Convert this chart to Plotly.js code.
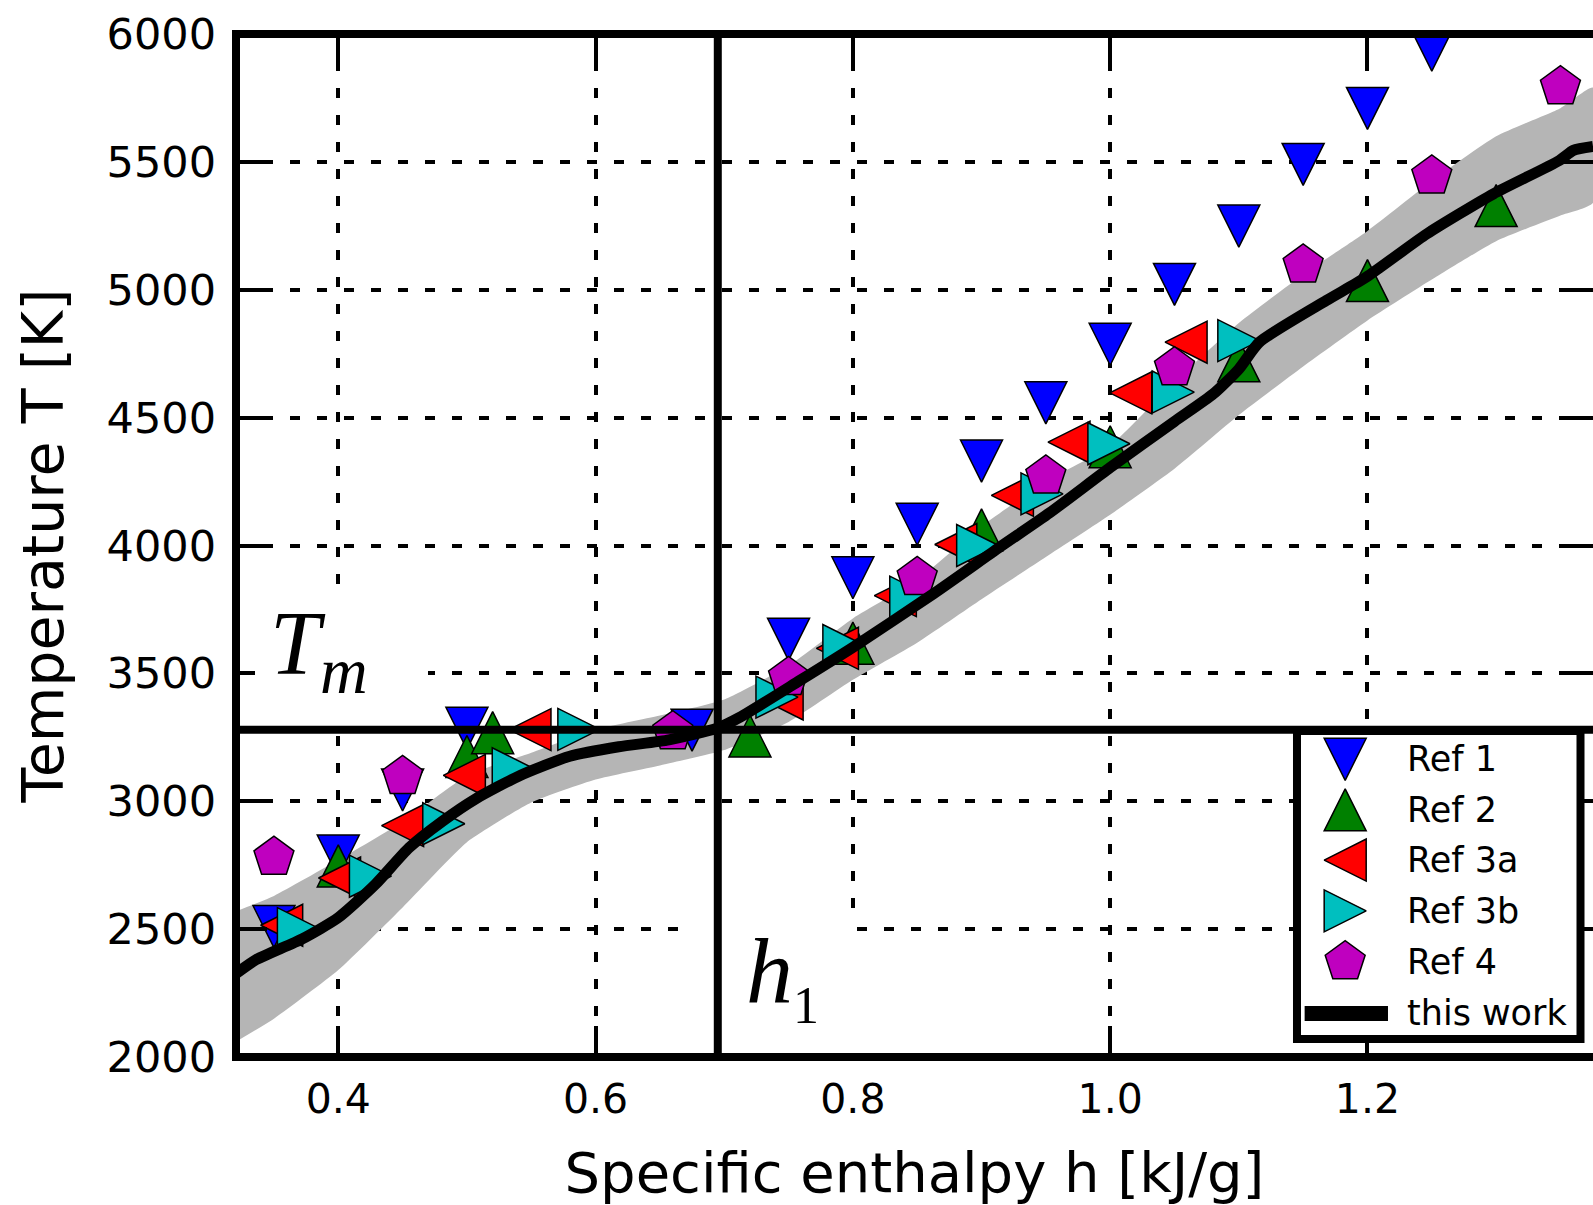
<!DOCTYPE html>
<html>
<head>
<meta charset="utf-8">
<script src="https://cdn.plot.ly/plotly-3.0.1.min.js"></script>
<style>
html,body{margin:0;padding:0;background:#fff;}
#chart{width:1593px;height:1205px;}
</style>
</head>
<body>
<div id="chart"></div>
<script>
// ---------------- data ----------------
const TM = 3280;    // melting temperature line T_m [K]
const H1 = 0.695;   // enthalpy line h_1 [kJ/g]

const ref1_h = [0.35, 0.40, 0.45, 0.50, 0.675, 0.75, 0.80, 0.85, 0.90, 0.95, 1.00, 1.05, 1.10, 1.15, 1.20, 1.25];
const ref1_T = [2510, 2786, 3044, 3285, 3278, 3633, 3874, 4083, 4330, 4558, 4787, 5021, 5249, 5490, 5709, 5937];

const ref2_h = [0.40, 0.50, 0.52, 0.72, 0.80, 0.90, 1.00, 1.10, 1.20, 1.30];
const ref2_T = [2747, 3175, 3268, 3255, 3618, 4061, 4386, 4722, 5036, 5329];

const ref3a_h = [0.356, 0.401, 0.450, 0.498, 0.549, 0.745, 0.788, 0.833, 0.880, 0.924, 0.968, 1.016, 1.059];
const ref3a_T = [2515, 2700, 2905, 3101, 3280, 3400, 3598, 3804, 4004, 4196, 4404, 4597, 4795];

const ref3b_h = [0.369, 0.425, 0.482, 0.536, 0.587, 0.741, 0.793, 0.845, 0.897, 0.947, 0.999, 1.049, 1.100];
const ref3b_T = [2502, 2707, 2912, 3127, 3281, 3407, 3609, 3798, 4000, 4202, 4398, 4600, 4801];

const ref4_h = [0.35, 0.45, 0.66, 0.75, 0.85, 0.95, 1.05, 1.15, 1.25, 1.35];
const ref4_T = [2781, 3097, 3272, 3484, 3875, 4272, 4695, 5097, 5445, 5794];

const work_h = [0.3205, 0.336, 0.372, 0.40, 0.429, 0.455, 0.481, 0.507, 0.541, 0.58, 0.618, 0.657, 0.694, 0.712, 0.759, 0.80, 0.8625, 0.914, 0.953, 1.00, 1.05, 1.08, 1.10, 1.116, 1.168, 1.199, 1.246, 1.298, 1.349, 1.36, 1.3753];
const work_T = [2326, 2380, 2462, 2545, 2676, 2818, 2922, 3010, 3100, 3176, 3213, 3240, 3285, 3328, 3473, 3602, 3811, 3993, 4128, 4305, 4485, 4592, 4690, 4795, 4958, 5049, 5218, 5375, 5505, 5545, 5560];

const band_h     = [0.3205, 0.35, 0.40, 0.45, 0.50, 0.55, 0.60, 0.65, 0.70, 0.75, 0.80, 0.85, 0.90, 0.95, 1.00, 1.05, 1.10, 1.15, 1.20, 1.25, 1.30, 1.35, 1.3753];
const band_upper = [2570, 2630, 2770, 2920, 3100, 3190, 3280, 3335, 3398, 3530, 3715, 3865, 4075, 4250, 4390, 4640, 4870, 5060, 5230, 5425, 5600, 5710, 5790];
const band_lower = [2060, 2150, 2340, 2585, 2840, 2995, 3085, 3140, 3200, 3310, 3475, 3620, 3790, 3955, 4120, 4300, 4510, 4700, 4880, 5040, 5190, 5290, 5340];

const xTickVals = [0.4, 0.6, 0.8, 1.0, 1.2];
const xTickText = ['0.4', '0.6', '0.8', '1.0', '1.2'];
const yTickVals = [2000, 2500, 3000, 3500, 4000, 4500, 5000, 5500, 6000];
const yTickText = ['2000', '2500', '3000', '3500', '4000', '4500', '5000', '5500', '6000'];

const seriesNames = ['Ref 1', 'Ref 2', 'Ref 3a', 'Ref 3b', 'Ref 4', 'this work'];

// ---------------- styling ----------------
const MS = 42;                 // marker size
const EDGE = {color: '#000', width: 1.5};
const FONT = 'DejaVu Sans, Bitstream Vera Sans, sans-serif';
const SERIF = 'Liberation Serif, Times New Roman, serif';

// triangles drawn as bbox-centred, equal-aspect triangles (matplotlib style)
function tri(angle, color) {
  return {symbol: 'arrow-down', angle: angle, standoff: MS / 2, size: MS, color: color, line: EDGE};
}
const markers = [
  tri(0, '#0000ff'),
  tri(180, '#008000'),
  tri(90, '#ff0000'),
  tri(-90, '#00bfbf'),
  {symbol: 'pentagon', size: MS, color: '#bf00bf', line: EDGE}
];

const bandX = band_h.concat(band_h.slice().reverse());
const bandY = band_upper.concat(band_lower.slice().reverse());

const traces = [
  {x: bandX, y: bandY, type: 'scatter', mode: 'lines', fill: 'toself',
   fillcolor: '#b5b5b5', line: {width: 0, color: '#b5b5b5', shape: 'spline', smoothing: 0.5}, showlegend: false, hoverinfo: 'skip'},
  {x: ref1_h, y: ref1_T, name: seriesNames[0], type: 'scatter', mode: 'markers', marker: markers[0]},
  {x: ref2_h, y: ref2_T, name: seriesNames[1], type: 'scatter', mode: 'markers', marker: markers[1]},
  {x: ref3a_h, y: ref3a_T, name: seriesNames[2], type: 'scatter', mode: 'markers', marker: markers[2]},
  {x: ref3b_h, y: ref3b_T, name: seriesNames[3], type: 'scatter', mode: 'markers', marker: markers[3]},
  {x: ref4_h, y: ref4_T, name: seriesNames[4], type: 'scatter', mode: 'markers', marker: markers[4]},
  {x: work_h, y: work_T, name: seriesNames[5], type: 'scatter', mode: 'lines',
   line: {color: '#000', width: 11, shape: 'spline', smoothing: 0.6}}
];

// ---------------- custom legend (own small axes, units 0..1 = box) ----------------
const LEG_MX = 0.170, LEG_TX = 0.381;
const LEG_ROWS = [0.908, 0.744, 0.581, 0.416, 0.251, 0.083];
for (let i = 0; i < 5; i++) {
  traces.push({x: [LEG_MX], y: [LEG_ROWS[i]], xaxis: 'x2', yaxis: 'y2', type: 'scatter', mode: 'markers',
               marker: markers[i], showlegend: false, hoverinfo: 'skip'});
}
traces.push({x: [0.027, 0.321], y: [LEG_ROWS[5], LEG_ROWS[5]], xaxis: 'x2', yaxis: 'y2', type: 'scatter',
             mode: 'lines', line: {color: '#000', width: 15}, showlegend: false, hoverinfo: 'skip'});

const legendAnn = seriesNames.map((n, i) => ({
  text: n, xref: 'x2', yref: 'y2', x: LEG_TX, y: LEG_ROWS[i], xanchor: 'left', yanchor: 'middle',
  showarrow: false, font: {family: FONT, size: 35, color: '#000'}
}));

// ---------------- layout ----------------
const W = 1593, H = 1205;
const mL = 236, mR = 0, mT = 34, mB = 148;
const pw = W - mL - mR, ph = H - mT - mB;
const px = v => (v - mL) / pw;          // pixel -> paper x
const py = v => (H - mB - v) / ph;      // pixel -> paper y

const axisCommon = {
  ticks: 'inside', ticklen: 31, tickwidth: 4, tickcolor: '#000',
  mirror: 'ticks', showline: false, zeroline: false,
  showgrid: true, gridcolor: '#000', gridwidth: 4, griddash: '10px,17px',
  automargin: false, fixedrange: true
};

const layout = {
  width: W, height: H,
  margin: {l: mL, r: mR, t: mT, b: mB, pad: 0},
  paper_bgcolor: '#ffffff', plot_bgcolor: 'rgba(0,0,0,0)',
  showlegend: false,
  xaxis: Object.assign({}, axisCommon, {
    range: [0.3205, 1.3753], tickmode: 'array', tickvals: xTickVals, ticktext: xTickText,
    tickfont: {family: FONT, size: 41, color: '#000'},
    ticklabelstandoff: 14,
    title: {text: 'Specific enthalpy h [kJ/g]', font: {family: FONT, size: 56, color: '#000'}, standoff: 36}
  }),
  yaxis: Object.assign({}, axisCommon, {
    range: [2000, 6000], tickmode: 'array', tickvals: yTickVals, ticktext: yTickText,
    tickfont: {family: FONT, size: 43, color: '#000'},
    ticklabelstandoff: 19,
    title: {text: 'Temperature T [K]', font: {family: FONT, size: 57, color: '#000'}, standoff: 24}
  }),
  xaxis2: {domain: [px(1277), 1.0], range: [-0.0705, 1.0441], anchor: 'y2', visible: false, fixedrange: true},
  yaxis2: {domain: [0, py(711)], range: [-0.0584, 1.0649], anchor: 'x2', visible: false, fixedrange: true},
  shapes: [
    // legend frame (drawn in the legend's own subplot, under its samples)
    {type: 'rect', xref: 'x2', yref: 'y2', x0: 0, x1: 1, y0: 0, y1: 1, layer: 'below',
     fillcolor: '#ffffff', line: {color: '#000', width: 8}},
    // white backgrounds behind the T_m and h_1 labels
    {type: 'rect', xref: 'paper', yref: 'paper', x0: px(255), x1: px(428), y0: py(722), y1: py(587),
     layer: 'above', fillcolor: '#ffffff', line: {width: 0}},
    {type: 'rect', xref: 'paper', yref: 'paper', x0: px(687), x1: px(856), y0: py(1054), y1: py(921),
     layer: 'above', fillcolor: '#ffffff', line: {width: 0}},
    // spines (left, top, bottom); right spine lies outside the picture
    {type: 'line', xref: 'paper', yref: 'paper', x0: 0, x1: 0, y0: -4 / ph, y1: 1 + 4 / ph, layer: 'above', line: {color: '#000', width: 8}},
    {type: 'line', xref: 'paper', yref: 'paper', x0: -4 / pw, x1: 1, y0: 1, y1: 1, layer: 'above', line: {color: '#000', width: 8}},
    {type: 'line', xref: 'paper', yref: 'paper', x0: -4 / pw, x1: 1, y0: 0, y1: 0, layer: 'above', line: {color: '#000', width: 8}},
    // T_m and h_1 lines
    {type: 'line', xref: 'paper', yref: 'y', x0: 0, x1: 1, y0: TM, y1: TM, layer: 'above', line: {color: '#000', width: 8}},
    {type: 'line', xref: 'x', yref: 'paper', x0: H1, x1: H1, y0: 0, y1: 1, layer: 'above', line: {color: '#000', width: 8}}
  ],
  annotations: [
    {text: '<i>T</i><sub><i><span style="font-size:66px">m</span></i></sub>', xref: 'paper', yref: 'paper', x: px(268), y: py(650),
     xanchor: 'left', yanchor: 'middle', showarrow: false, font: {family: SERIF, size: 90, color: '#000'}},
    {text: '<i>h</i><sub><span style="font-size:52px">1</span></sub>', xref: 'paper', yref: 'paper', x: px(744), y: py(976),
     xanchor: 'left', yanchor: 'middle', showarrow: false, font: {family: SERIF, size: 94, color: '#000'}}
  ].concat(legendAnn)
};

Plotly.newPlot('chart', traces, layout, {displayModeBar: false, staticPlot: true});
</script>
</body>
</html>
